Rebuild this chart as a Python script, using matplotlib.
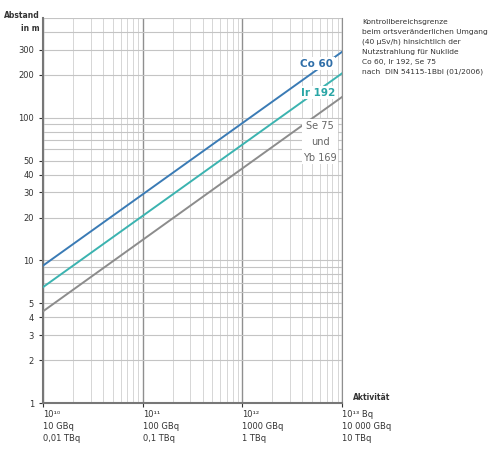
import matplotlib
matplotlib.use("Agg")
import matplotlib.pyplot as plt
from matplotlib.ticker import LogLocator, NullFormatter, FixedLocator

plt.rcParams['font.family'] = ['DejaVu Sans']

# Aktivität in Bq (Endpunkte der Geraden) und Abstand in m
aktivitaet = [1e10, 1e13]
co60 = [9.2, 290]
ir192 = [6.5, 205]
se75 = [4.4, 140]

y_ticks = [1, 2, 3, 4, 5, 10, 20, 30, 40, 50, 100, 200, 300]
x_ticks = [1e10, 1e11, 1e12, 1e13]
x_labels = ["10¹⁰\n10 GBq\n0,01 TBq",
            "10¹¹\n100 GBq\n0,1 TBq",
            "10¹²\n1000 GBq\n1 TBq",
            "10¹³ Bq\n10 000 GBq\n10 TBq"]

info = ("Kontrollbereichsgrenze\n"
        "beim ortsveränderlichen Umgang\n"
        "(40 µSv/h) hinsichtlich der\n"
        "Nutzstrahlung für Nuklide\n"
        "Co 60, Ir 192, Se 75\n"
        "nach  DIN 54115-1Bbl (01/2006)")

fig = plt.figure(figsize=(4.88, 4.51), dpi=100)
ax = fig.add_axes([0.088, 0.106, 0.613, 0.854])
ax.set_xscale("log")
ax.set_yscale("log")
ax.set_xlim(1e10, 1e13)
ax.set_ylim(1, 500)

ax.xaxis.set_minor_locator(LogLocator(base=10, subs=range(2, 10)))
ax.yaxis.set_minor_locator(LogLocator(base=10, subs=range(2, 10)))
ax.xaxis.set_minor_formatter(NullFormatter())
ax.yaxis.set_minor_formatter(NullFormatter())
ax.grid(True, axis="x", which="major", color="#8f8f8f", lw=1.0)
ax.grid(True, axis="x", which="minor", color="#d6d6d6", lw=0.7)
ax.grid(True, axis="y", which="both", color="#c4c4c4", lw=0.8)
ax.set_axisbelow(True)

ax.plot(aktivitaet, co60, color="#3a7bb5", lw=1.4, zorder=3)
ax.plot(aktivitaet, ir192, color="#3bb3b0", lw=1.4, zorder=3)
ax.plot(aktivitaet, se75, color="#8c8c8c", lw=1.4, zorder=3)

box = dict(facecolor="white", edgecolor="none", pad=1.2)
ax.text(5.6e12, 240, "Co 60", color="#2f6ea8", fontsize=7.5, fontweight="bold",
        ha="center", va="center", bbox=box, zorder=4)
ax.text(5.8e12, 150, "Ir 192", color="#2aa6a6", fontsize=7.5, fontweight="bold",
        ha="center", va="center", bbox=box, zorder=4)
ax.text(6.0e12, 68, "Se 75\nund\nYb 169", color="#666666", fontsize=7,
        ha="center", va="center", linespacing=1.75, bbox=box, zorder=4)

ax.yaxis.set_major_locator(FixedLocator(y_ticks))
ax.set_yticklabels([str(v) for v in y_ticks])
ax.set_xticks(x_ticks)
ax.set_xticklabels(x_labels, ha="left", linespacing=1.45)
ax.tick_params(axis="both", which="major", labelsize=6, colors="#333333",
               length=3, width=0.8)
ax.tick_params(axis="x", which="major", length=3, pad=2)
ax.tick_params(which="minor", length=0)

ax.spines["top"].set_visible(False)
ax.spines["right"].set_color("#8f8f8f")
ax.spines["left"].set_color("#777777")
ax.spines["bottom"].set_color("#777777")
ax.spines["left"].set_linewidth(1.5)
ax.spines["bottom"].set_linewidth(1.5)

fig.text(0.082, 0.975, "Abstand\nin m", fontsize=5.5, fontweight="bold",
         ha="right", va="top", color="#333333", linespacing=1.5)
fig.text(0.724, 0.118, "Aktivität", fontsize=5.5, fontweight="bold",
         ha="left", va="center", color="#333333")
fig.text(0.742, 0.957, info, fontsize=5.4, ha="left", va="top",
         color="#333333", linespacing=1.75)

fig.savefig("out.png", dpi=100)
